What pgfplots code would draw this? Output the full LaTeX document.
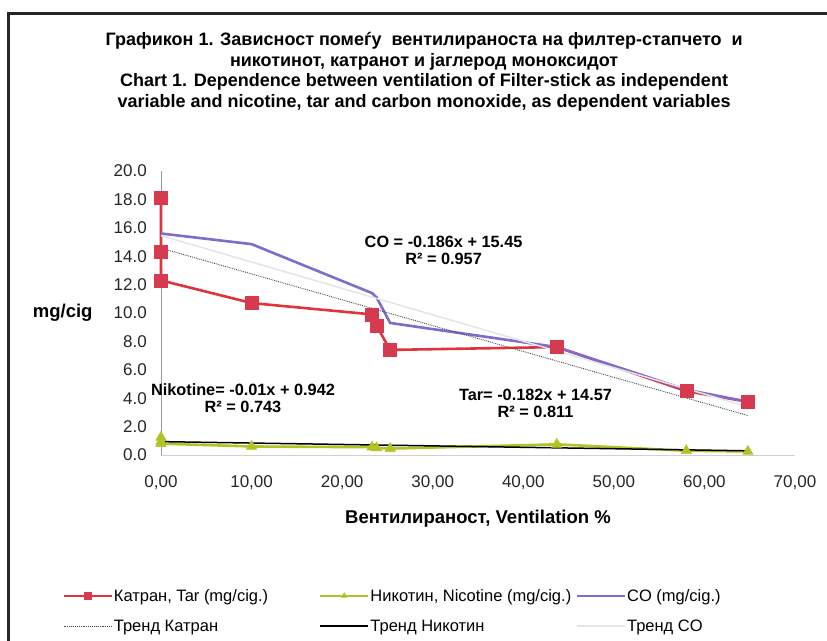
\documentclass[border=0pt]{standalone}
\usepackage{fontspec}
\setmainfont{Liberation Sans}
\usepackage{pgfplots}
\pgfplotsset{compat=1.18}

\definecolor{tarred}{RGB}{224,52,60}
\definecolor{tarmark}{RGB}{214,58,78}
\definecolor{cocol}{RGB}{128,108,205}
\definecolor{nicgreen}{RGB}{178,196,36}

\begin{document}
\begin{tikzpicture}[x=1pt,y=1pt]
\useasboundingbox (0,0) rectangle (827,640);
% frame of the original chart area (left and top edges visible)
\draw[line width=3pt, black!85] (8,-20) rectangle (860,626);
\begin{axis}[
  at={(161pt,185pt)}, anchor=south west,
  scale only axis, width=634pt, height=284pt,
  xmin=0, xmax=70, ymin=0, ymax=20,
  enlargelimits=false,
  axis lines=left, axis line style={-, draw=black!40, line width=0.8pt},
  x axis line style={draw=red!25!black!20},
  xtick={0,10,...,70}, ytick={0,2,...,20},
  major tick length=0pt,
  tick label style={font=\fontsize{17}{17}\selectfont, text=black!85},
  xticklabel style={anchor=center, inner sep=0pt, yshift=-28pt,
    /pgf/number format/.cd, fixed, fixed zerofill, precision=2, use comma, assume math mode=true},
  yticklabel style={anchor=east, inner sep=0pt, xshift=-14pt,
    /pgf/number format/.cd, fixed, fixed zerofill, precision=1, assume math mode=true},
  title={Графикон 1. Зависност помеѓу\ \ вентилираноста на филтер-стапчето\ \ и\\никотинот, катранот и јаглерод моноксидот\\Chart 1. Dependence between ventilation of Filter-stick as independent\\variable and nicotine, tar and carbon monoxide, as dependent variables},
  title style={at={(0.415,1.328)}, anchor=center, align=center, font=\bfseries\fontsize{18}{20.6}\selectfont},
  xlabel={Вентилираност, Ventilation \%},
  every axis x label/.style={at={(0.5,-0.225)}, anchor=center, font=\bfseries\fontsize{18.5}{20}\selectfont},
  ylabel={mg/cig},
  every axis y label/.style={at={(-0.155,0.5)}, anchor=center, font=\bfseries\fontsize{18.5}{20}\selectfont},
  legend columns=3,
  legend style={at={(-0.156,-0.468)}, anchor=north west, draw=none, fill=none,
    font=\fontsize{16.5}{18}\selectfont, row sep=15pt, inner sep=0pt,
    nodes={inner sep=1pt}, cells={anchor=west}},
  legend image code/.code={\draw[mark repeat=2, mark phase=2, #1, mark size=3.2pt] plot coordinates {(0pt,0pt) (24pt,0pt) (48pt,0pt)};},
  clip=false,
]
% Катран / Tar
\addplot[tarred, line width=2.6pt, mark=square*, mark size=6.5pt,
  mark options={fill=tarmark, draw=tarmark, line width=0.5pt}]
  coordinates {(0,18.1) (0,14.3) (0,12.3) (10,10.7) (23.3,9.9) (23.8,9.1) (25.3,7.4) (43.7,7.6) (58.0,4.5) (64.8,3.75)};
\addlegendentry{\makebox[204pt][l]{Катран, Tar (mg/cig.)}}
% Никотин / Nicotine
\addplot[nicgreen, line width=2.6pt, mark=triangle*, mark size=6pt,
  mark options={fill=nicgreen, draw=nicgreen, line width=0.5pt}]
  coordinates {(0,1.25) (0,0.95) (0,0.8) (10,0.6) (23.3,0.55) (23.8,0.5) (25.3,0.45) (43.7,0.75) (58.0,0.3) (64.8,0.25)};
\addlegendentry{\makebox[204pt][l]{Никотин, Nicotine (mg/cig.)}}
% CO
\addplot[cocol, line width=2.6pt, mark=none]
  coordinates {(0,15.6) (10,14.85) (23.3,11.4) (23.8,11.1) (25.3,9.3) (43.7,7.6) (58.0,4.6) (64.8,3.75)};
\addlegendentry{CO (mg/cig.)}
% trend lines (from the fitted equations)
\addplot[black!70, line width=0.9pt, densely dotted] coordinates {(0,14.57) (64.8,2.78)};
\addlegendentry{Тренд Катран}
\addplot[black, line width=1.5pt] coordinates {(0,0.942) (64.8,0.294)};
\addlegendentry{Тренд Никотин}
\addplot[black!10, line width=1.5pt] coordinates {(0,15.45) (64.8,3.40)};
\addlegendentry{Тренд CO}

\node[font=\bfseries\fontsize{16.3}{17}\selectfont, align=center] at (axis cs:31.2,14.44) {CO = -0.186x + 15.45\\R² = 0.957};
\node[font=\bfseries\fontsize{16.3}{17}\selectfont, align=center] at (axis cs:9.05,4.0) {Nikotine= -0.01x + 0.942\\R² = 0.743};
\node[font=\bfseries\fontsize{16.3}{17}\selectfont, align=center] at (axis cs:41.35,3.6) {Tar= -0.182x + 14.57\\R² = 0.811};
\end{axis}
\end{tikzpicture}
\end{document}
